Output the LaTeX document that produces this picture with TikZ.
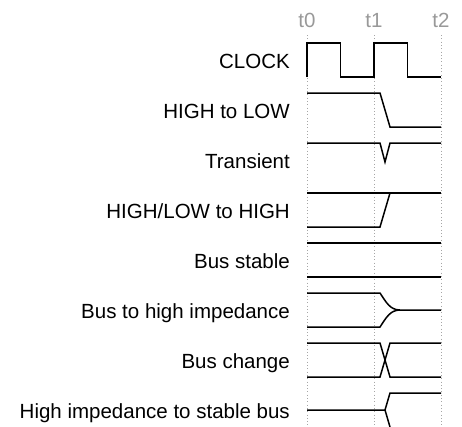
\documentclass[tikz,border=0pt]{standalone}
\usepackage{fontspec}
\setmainfont{Liberation Sans}
\begin{document}
\begin{tikzpicture}[x=1pt,y=-1pt,
    sig/.style={line width=1.5pt},
    grid/.style={black!35,line width=0.9pt,dash pattern=on 0.9pt off 2.4pt},
    lbl/.style={anchor=base east,inner sep=0pt,font=\fontsize{20.5}{24}\selectfont},
    tmark/.style={anchor=base,inner sep=0pt,text=black!40,font=\fontsize{20.5}{24}\selectfont}]
        \useasboundingbox (0,0) rectangle (462,426);

        % time marks
        \node[tmark] (t0) at (307,27) {t0};
        \node[tmark] (t1) at (374,27) {t1};
        \node[tmark] (t2) at (441,27) {t2};
        \draw[grid] (307,35) -- (307,426);
        \draw[grid] (374,35) -- (374,426);
        \draw[grid] (441,35) -- (441,426);

        % labels
        \node[lbl] (lclock) at (290,68.5) {CLOCK};
        \node[lbl] (lhilo) at (290,118.5) {HIGH to LOW};
        \node[lbl] (ltrans) at (290,168.5) {Transient};
        \node[lbl] (lhigh) at (290,218.5) {HIGH/LOW to HIGH};
        \node[lbl] (lstable) at (290,268.5) {Bus stable};
        \node[lbl] (lhiz) at (290,318.5) {Bus to high impedance};
        \node[lbl] (lchange) at (290,368.5) {Bus change};
        \node[lbl] (lzbus) at (290,418.5) {High impedance to stable bus};

        % clock
        \draw[sig] (307,77) -- (307,43) -- (340.5,43) -- (340.5,77) -- (374,77)
            -- (374,43) -- (407.5,43) -- (407.5,77) -- (441,77);

        % high to low
        \draw[sig] (307,93) -- (380,93) -- (390,127) -- (441,127);

        % transient
        \draw[sig] (307,143) -- (380,143) -- (385,162) -- (390,143) -- (441,143);

        % high/low to high
        \draw[sig] (307,193) -- (441,193);
        \draw[sig] (307,227) -- (380,227) -- (390,193);

        % bus stable
        \draw[sig] (307,243) -- (441,243);
        \draw[sig] (307,277) -- (441,277);

        % bus to high impedance
        \draw[sig] (307,293) -- (380,293) .. controls (386,302) and (390,310) .. (400,310) -- (441,310);
        \draw[sig] (307,327) -- (380,327) .. controls (386,318) and (390,310) .. (400,310);

        % bus change
        \draw[sig] (307,343) -- (380,343) -- (390,377) -- (441,377);
        \draw[sig] (307,377) -- (380,377) -- (390,343) -- (441,343);

        % high impedance to stable bus
        \draw[sig] (307,410) -- (385,410) -- (390,393) -- (441,393);
        \draw[sig] (385,410) -- (390,427);
\end{tikzpicture}
\end{document}
